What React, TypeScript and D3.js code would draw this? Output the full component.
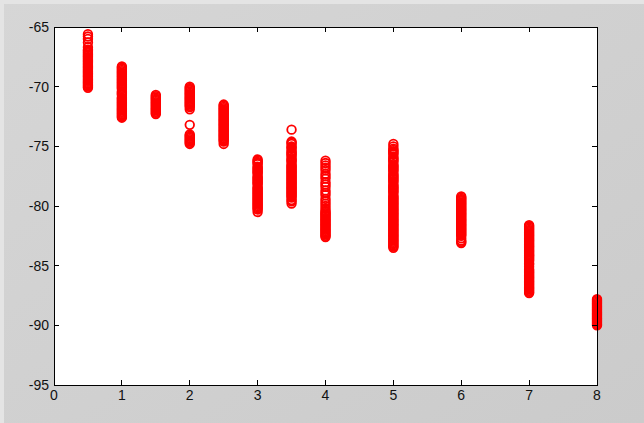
import React from "react";
import * as d3 from "d3";

// x positions (categories) and the y values measured at each
const xTicks = [0, 1, 2, 3, 4, 5, 6, 7, 8];
const yTicks = [-95, -90, -85, -80, -75, -70, -65];

const yAt05 = [-65.6, -65.8, -66.0, -66.3, -66.7, -66.9, -67.0, -67.1, -67.2, -67.3, -67.4, -67.5, -67.6, -67.7, -67.8, -67.9, -68.0, -68.1, -68.2, -68.3, -68.4, -68.5, -68.6, -68.7, -68.8, -68.9, -69.0, -69.1, -69.2, -69.3, -69.4, -69.5, -69.6, -69.7, -69.8, -69.9, -70.0, -70.1];
const yAt1 = [-68.3, -68.4, -68.5, -68.6, -68.7, -68.8, -68.9, -69.0, -69.1, -69.2, -69.3, -69.4, -69.5, -69.6, -69.7, -69.8, -69.9, -70.0, -70.1, -70.2, -70.4, -70.5, -70.6, -70.7, -70.9, -71.0, -71.1, -71.2, -71.3, -71.4, -71.5, -71.6, -71.7, -71.8, -71.9, -72.0, -72.1, -72.2, -72.3, -72.4, -72.5, -72.6];
const yAt15 = [-70.7, -70.8, -70.9, -71.0, -71.1, -71.2, -71.3, -71.4, -71.5, -71.6, -71.7, -71.8, -71.9, -72.0, -72.1, -72.2, -72.3];
const yAt2 = [-70.0, -70.1, -70.2, -70.3, -70.4, -70.5, -70.6, -70.7, -70.8, -70.9, -71.0, -71.1, -71.2, -71.3, -71.4, -71.5, -71.6, -71.7, -71.9, -73.2, -74.0, -74.1, -74.2, -74.3, -74.4, -74.5, -74.6, -74.7, -74.8];
const yAt25 = [-71.5, -71.6, -71.7, -71.8, -71.9, -72.0, -72.1, -72.2, -72.3, -72.4, -72.5, -72.6, -72.7, -72.8, -72.9, -73.0, -73.1, -73.2, -73.3, -73.4, -73.5, -73.6, -73.7, -73.8, -73.9, -74.0, -74.1, -74.2, -74.3, -74.4, -74.5, -74.6, -74.8];
const yAt3 = [-76.1, -76.2, -76.3, -76.4, -76.5, -76.7, -76.8, -76.9, -77.0, -77.1, -77.2, -77.3, -77.5, -77.6, -77.7, -77.8, -77.9, -78.0, -78.1, -78.2, -78.4, -78.5, -78.6, -78.7, -78.8, -78.9, -79.0, -79.1, -79.2, -79.3, -79.4, -79.5, -79.6, -79.7, -79.8, -79.9, -80.0, -80.1, -80.2, -80.3, -80.5];
const yAt35 = [-73.6, -74.6, -74.7, -74.8, -75.0, -75.1, -75.2, -75.4, -75.5, -75.6, -75.7, -75.8, -76.0, -76.1, -76.2, -76.3, -76.5, -76.6, -76.7, -76.8, -76.9, -77.0, -77.1, -77.2, -77.3, -77.4, -77.5, -77.6, -77.7, -77.8, -77.9, -78.0, -78.1, -78.2, -78.3, -78.4, -78.5, -78.6, -78.7, -78.8, -78.9, -79.0, -79.1, -79.2, -79.3, -79.5, -79.6, -79.8];
const yAt4 = [-76.2, -76.4, -76.6, -76.8, -77.0, -77.3, -77.5, -77.7, -78.0, -78.2, -78.4, -78.7, -78.9, -79.1, -79.4, -79.6, -79.8, -80.0, -80.2, -80.4, -80.5, -80.6, -80.7, -80.8, -80.9, -81.0, -81.1, -81.2, -81.3, -81.4, -81.5, -81.6, -81.7, -81.8, -81.9, -82.0, -82.1, -82.2, -82.3, -82.4, -82.5, -82.6];
const yAt5 = [-74.8, -75.0, -75.2, -75.3, -75.4, -75.5, -75.6, -75.7, -75.9, -76.0, -76.1, -76.2, -76.3, -76.5, -76.6, -76.7, -76.8, -76.9, -77.0, -77.1, -77.3, -77.4, -77.5, -77.6, -77.7, -77.8, -77.9, -78.0, -78.2, -78.3, -78.4, -78.5, -78.6, -78.7, -78.8, -78.9, -79.1, -79.2, -79.3, -79.4, -79.5, -79.6, -79.7, -79.8, -79.9, -80.0, -80.1, -80.2, -80.3, -80.4, -80.5, -80.6, -80.7, -80.8, -80.9, -81.0, -81.1, -81.2, -81.3, -81.4, -81.5, -81.6, -81.7, -81.8, -81.9, -82.0, -82.1, -82.2, -82.3, -82.4, -82.5, -82.6, -82.7, -82.8, -82.9, -83.0, -83.1, -83.2, -83.3, -83.4, -83.5];
const yAt6 = [-79.2, -79.3, -79.4, -79.5, -79.6, -79.7, -79.8, -79.9, -80.0, -80.1, -80.2, -80.3, -80.4, -80.5, -80.6, -80.7, -80.8, -80.9, -81.0, -81.1, -81.2, -81.3, -81.4, -81.5, -81.6, -81.7, -81.8, -81.9, -82.0, -82.1, -82.2, -82.3, -82.4, -82.5, -82.7, -82.9, -83.0, -83.1];
const yAt7 = [-81.6, -81.7, -81.8, -81.9, -82.0, -82.1, -82.2, -82.3, -82.4, -82.5, -82.6, -82.7, -82.8, -82.9, -83.0, -83.1, -83.2, -83.3, -83.4, -83.5, -83.6, -83.7, -83.8, -83.9, -84.0, -84.1, -84.2, -84.3, -84.4, -84.5, -84.6, -84.8, -84.9, -85.1, -85.3, -85.4, -85.5, -85.6, -85.7, -85.8, -85.9, -86.0, -86.1, -86.2, -86.3, -86.4, -86.5, -86.6, -86.7, -86.8, -86.9, -87.0, -87.1, -87.2, -87.3];
const yAt8 = [-87.8, -87.9, -88.0, -88.1, -88.2, -88.3, -88.4, -88.5, -88.6, -88.7, -88.8, -88.9, -89.0, -89.1, -89.2, -89.3, -89.4, -89.5, -89.6, -89.7, -89.8, -89.9, -90.0];

const categories = [0.5, 1, 1.5, 2, 2.5, 3, 3.5, 4, 5, 6, 7, 8];
const seriesValues = [yAt05, yAt1, yAt15, yAt2, yAt25, yAt3, yAt35, yAt4, yAt5, yAt6, yAt7, yAt8];

const W = 644;
const H = 423;
const L = 54, R = 597, T = 27, B = 385;

export default function App() {
  const x = d3.scaleLinear().domain([0, 8]).range([L, R]);
  const y = d3.scaleLinear().domain([-95, -65]).range([B, T]);
  const pts: { cx: number; cy: number; k: string }[] = [];
  categories.forEach((c, i) => {
    seriesValues[i].forEach((v, j) => {
      pts.push({ cx: x(c), cy: y(v), k: `${i}-${j}` });
    });
  });
  const font = "'Liberation Sans', Arial, sans-serif";
  const tickLen = 5;
  return (
    <div style={{ position: "fixed", left: 0, top: 0 }}>
      <svg width={W} height={H} style={{ display: "block" }}>
        <defs>
          <linearGradient id="bg" x1="0" y1="0" x2="1" y2="1">
            <stop offset="0" stopColor="#d6d6d6" />
            <stop offset="1" stopColor="#cbcbcb" />
          </linearGradient>
        </defs>
        <rect x={0} y={0} width={W} height={H} fill="url(#bg)" />
        <rect x={0} y={0} width={W} height={4} fill="#e4e4e4" />
        <rect x={0} y={0} width={4} height={H} fill="#e4e4e4" />
        <rect x={L} y={T} width={R - L} height={B - T} fill="#ffffff" />
        <g>
          {pts.map((p) => (
            <circle key={p.k} cx={p.cx} cy={p.cy} r={4.3} fill="none" stroke="#ff0000" strokeWidth={1.8} />
          ))}
        </g>
        <rect x={L} y={T} width={R - L} height={B - T} fill="none" stroke="#000" strokeWidth={1} shapeRendering="crispEdges" />
        <g stroke="#000" strokeWidth={1} shapeRendering="crispEdges">
          {xTicks.map((t) => (
            <g key={`xt${t}`}>
              <line x1={x(t)} x2={x(t)} y1={B} y2={B - tickLen} />
              <line x1={x(t)} x2={x(t)} y1={T} y2={T + tickLen} />
            </g>
          ))}
          {yTicks.map((t) => (
            <g key={`yt${t}`}>
              <line x1={L} x2={L + tickLen} y1={y(t)} y2={y(t)} />
              <line x1={R} x2={R - tickLen} y1={y(t)} y2={y(t)} />
            </g>
          ))}
        </g>
        <g fontFamily={font} fontSize={14} fill="#111">
          {xTicks.map((t) => (
            <text key={`xl${t}`} x={x(t)} y={B + 15} textAnchor="middle">{t}</text>
          ))}
          {yTicks.map((t) => (
            <text key={`yl${t}`} x={L - 5} y={y(t) + 5} textAnchor="end">{t}</text>
          ))}
        </g>
      </svg>
    </div>
  );
}
